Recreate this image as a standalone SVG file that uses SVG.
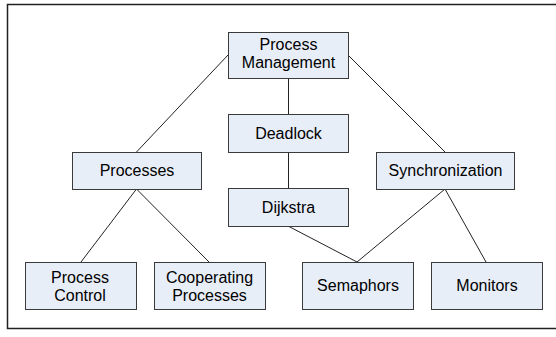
<svg xmlns="http://www.w3.org/2000/svg" width="556" height="337" viewBox="0 0 556 337">
<style>
.box{fill:#E8EEF8;stroke:#3A3A3A;stroke-width:1}
.sh{fill:#9A9A9A}
.t{font-family:"Liberation Sans",Arial,sans-serif;font-size:16px;fill:#000;text-anchor:middle}
.c{stroke:#222;stroke-width:1;fill:none}
</style>
<rect width="556" height="337" fill="#fff"/>
<path d="M558,4.5 H7.5 V328.5 H558" fill="none" stroke="#222" stroke-width="1.5"/>
<g id="connectors">
<line class="c" x1="228" y1="55" x2="136.5" y2="152"/>
<line class="c" x1="348" y1="55" x2="445" y2="152"/>
<line class="c" x1="288.5" y1="78" x2="288.5" y2="114"/>
<line class="c" x1="288.5" y1="152" x2="288.5" y2="188"/>
<line class="c" x1="136.5" y1="189" x2="81" y2="262"/>
<line class="c" x1="136.5" y1="189" x2="209" y2="262"/>
<line class="c" x1="288" y1="226" x2="357" y2="262"/>
<line class="c" x1="445" y1="189" x2="357" y2="262"/>
<line class="c" x1="445" y1="189" x2="486" y2="262"/>
</g>
<g id="pm"><rect class="sh" x="229" y="33" width="120" height="46"/><rect class="box" x="228.5" y="32.5" width="120" height="46"/><text class="t" x="288.5" y="49.5">Process</text><text class="t" x="288.5" y="68">Management</text></g>
<g id="deadlock"><rect class="sh" x="229" y="115" width="120" height="38"/><rect class="box" x="228.5" y="114.5" width="120" height="38"/><text class="t" x="288.5" y="139">Deadlock</text></g>
<g id="processes"><rect class="sh" x="73" y="153" width="129" height="37"/><rect class="box" x="72.5" y="152.5" width="129" height="37"/><text class="t" x="137" y="176">Processes</text></g>
<g id="sync"><rect class="sh" x="377" y="153" width="138" height="37"/><rect class="box" x="376.5" y="152.5" width="138" height="37"/><text class="t" x="445.5" y="176">Synchronization</text></g>
<g id="dijkstra"><rect class="sh" x="229" y="189" width="120" height="38"/><rect class="box" x="228.5" y="188.5" width="120" height="38"/><text class="t" x="288.5" y="213">Dijkstra</text></g>
<g id="pc"><rect class="sh" x="26" y="263" width="111" height="47"/><rect class="box" x="25.5" y="262.5" width="111" height="47"/><text class="t" x="80" y="283">Process</text><text class="t" x="80" y="301">Control</text></g>
<g id="coop"><rect class="sh" x="155" y="263" width="111" height="47"/><rect class="box" x="154.5" y="262.5" width="111" height="47"/><text class="t" x="209.5" y="283">Cooperating</text><text class="t" x="209.5" y="301">Processes</text></g>
<g id="sem"><rect class="sh" x="303" y="263" width="111" height="47"/><rect class="box" x="302.5" y="262.5" width="111" height="47"/><text class="t" x="358" y="291">Semaphors</text></g>
<g id="mon"><rect class="sh" x="432" y="263" width="111" height="47"/><rect class="box" x="431.5" y="262.5" width="111" height="47"/><text class="t" x="487" y="291">Monitors</text></g>
</svg>
